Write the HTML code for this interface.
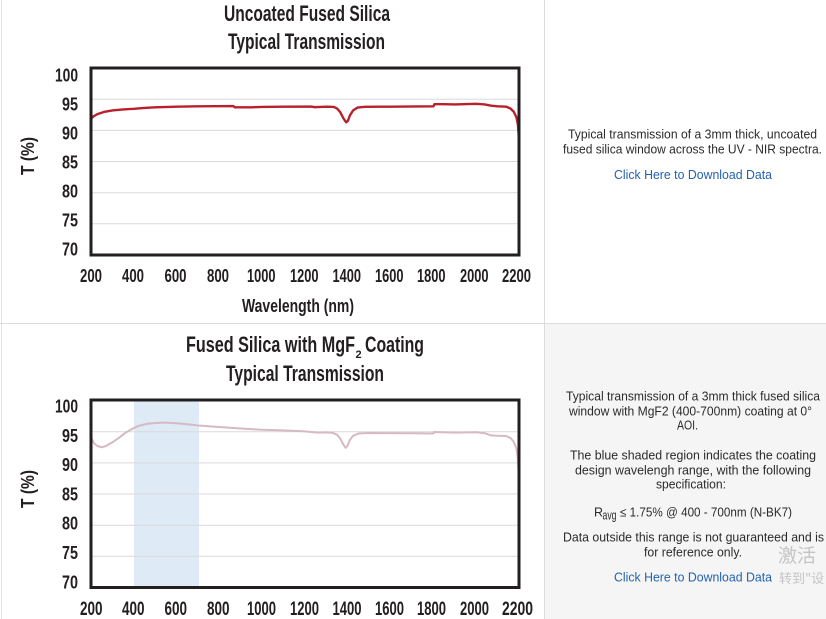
<!DOCTYPE html>
<html><head><meta charset="utf-8"><style>
html,body{margin:0;padding:0;background:#fff;}
svg{display:block;}
.t{font-family:"Liberation Sans",sans-serif;font-weight:bold;fill:#231f20;}
.r{font-family:"Liberation Sans","Noto Sans CJK SC",sans-serif;font-size:12.5px;fill:#2b2b2b;}
.lk{fill:#2462b0;}
</style></head><body>
<svg width="826" height="619" viewBox="0 0 826 619" xmlns="http://www.w3.org/2000/svg">
<rect x="0" y="0" width="826" height="619" fill="#fff"/>
<rect x="545" y="324" width="281" height="295" fill="#f5f5f5"/>
<line x1="1.5" y1="0" x2="1.5" y2="619" stroke="#e2e2e2" stroke-width="1"/>
<line x1="544.5" y1="0" x2="544.5" y2="619" stroke="#dcdcdc" stroke-width="1"/>
<line x1="0" y1="323.5" x2="826" y2="323.5" stroke="#dcdcdc" stroke-width="1"/>

<!-- TOP CHART -->
<text class="t" x="224" y="21" font-size="22" textLength="166" lengthAdjust="spacingAndGlyphs">Uncoated Fused Silica</text>
<text class="t" x="228" y="49" font-size="22" textLength="157" lengthAdjust="spacingAndGlyphs">Typical Transmission</text>
<g stroke="#dadada" stroke-width="1">
<line x1="91" y1="99.2" x2="519" y2="99.2"/>
<line x1="91" y1="130.4" x2="519" y2="130.4"/>
<line x1="91" y1="161.5" x2="519" y2="161.5"/>
<line x1="91" y1="192.7" x2="519" y2="192.7"/>
<line x1="91" y1="223.8" x2="519" y2="223.8"/>
</g>
<polyline fill="none" stroke="#b8202d" stroke-width="2.4" stroke-linejoin="round" vector-effect="non-scaling-stroke"
transform="matrix(0.214,0,0,-6.233,48.2,691.31)"
points="200,91.8 210,92.2 230,92.6 260,92.95 300,93.2 350,93.35 400,93.45 450,93.6 500,93.7 600,93.8 700,93.85 865,93.9 872,93.7 950,93.7 1000,93.75 1100,93.8 1230,93.82 1245,93.72 1300,93.8 1335,93.75 1350,93.5 1365,92.9 1380,91.9 1392,91.3 1400,91.5 1410,92.4 1425,93.2 1445,93.65 1480,93.78 1600,93.8 1800,93.85 1805,94.2 1850,94.2 1900,94.15 2000,94.25 2040,94.15 2070,93.95 2100,93.85 2140,93.8 2160,93.5 2175,93.0 2188,92.1 2195,90.9 2198,89.5 2200,88"/>
<rect x="91" y="68" width="428" height="187" fill="none" stroke="#231f20" stroke-width="3"/>
<g class="t" font-size="18" text-anchor="end">
<text x="78" y="81.5" textLength="23" lengthAdjust="spacingAndGlyphs">100</text>
<text x="78" y="110.5" textLength="16" lengthAdjust="spacingAndGlyphs">95</text>
<text x="78" y="139.5" textLength="16" lengthAdjust="spacingAndGlyphs">90</text>
<text x="78" y="168.5" textLength="16" lengthAdjust="spacingAndGlyphs">85</text>
<text x="78" y="197.5" textLength="16" lengthAdjust="spacingAndGlyphs">80</text>
<text x="78" y="226.5" textLength="16" lengthAdjust="spacingAndGlyphs">75</text>
<text x="78" y="255.5" textLength="16" lengthAdjust="spacingAndGlyphs">70</text>
</g>
<g class="t" font-size="18">
<text x="80" y="282" textLength="22" lengthAdjust="spacingAndGlyphs">200</text>
<text x="122" y="282" textLength="22" lengthAdjust="spacingAndGlyphs">400</text>
<text x="164.5" y="282" textLength="22" lengthAdjust="spacingAndGlyphs">600</text>
<text x="207" y="282" textLength="22" lengthAdjust="spacingAndGlyphs">800</text>
<text x="247" y="282" textLength="28.5" lengthAdjust="spacingAndGlyphs">1000</text>
<text x="290" y="282" textLength="28.5" lengthAdjust="spacingAndGlyphs">1200</text>
<text x="332.5" y="282" textLength="28.5" lengthAdjust="spacingAndGlyphs">1400</text>
<text x="375" y="282" textLength="28.5" lengthAdjust="spacingAndGlyphs">1600</text>
<text x="417" y="282" textLength="28.5" lengthAdjust="spacingAndGlyphs">1800</text>
<text x="460" y="282" textLength="28.5" lengthAdjust="spacingAndGlyphs">2000</text>
<text x="502" y="282" textLength="29" lengthAdjust="spacingAndGlyphs">2200</text>
</g>
<text class="t" x="242" y="312" font-size="18" textLength="112" lengthAdjust="spacingAndGlyphs">Wavelength (nm)</text>
<text class="t" x="0" y="0" font-size="18" transform="translate(34,175) rotate(-90)" textLength="38" lengthAdjust="spacingAndGlyphs">T (%)</text>

<!-- BOTTOM CHART -->
<text class="t" x="186" y="352" font-size="22" textLength="169" lengthAdjust="spacingAndGlyphs">Fused Silica with MgF</text>
<text class="t" x="355.5" y="358" font-size="11">2</text>
<text class="t" x="365" y="352" font-size="22" textLength="59" lengthAdjust="spacingAndGlyphs">Coating</text>
<text class="t" x="226" y="381" font-size="22" textLength="158" lengthAdjust="spacingAndGlyphs">Typical Transmission</text>
<rect x="134" y="400" width="65" height="187" fill="#deeaf5"/>
<g stroke="#dadada" stroke-width="1">
<line x1="91" y1="431.7" x2="519" y2="431.7"/>
<line x1="91" y1="462.9" x2="519" y2="462.9"/>
<line x1="91" y1="494" x2="519" y2="494"/>
<line x1="91" y1="525.2" x2="519" y2="525.2"/>
<line x1="91" y1="556.3" x2="519" y2="556.3"/>
</g>
<polyline fill="none" stroke="#d7b9c1" stroke-width="2" stroke-linejoin="round" vector-effect="non-scaling-stroke"
transform="matrix(0.214,0,0,-6.233,48.2,1023.81)"
points="200,94.4 205,93.8 215,93.1 230,92.7 250,92.5 270,92.7 300,93.3 330,94.0 360,94.8 390,95.4 420,95.9 460,96.25 500,96.4 550,96.45 600,96.35 650,96.2 700,96.0 800,95.75 900,95.5 1000,95.3 1100,95.2 1200,95.05 1260,94.85 1300,94.88 1330,94.8 1350,94.5 1365,93.9 1380,92.9 1390,92.4 1398,92.7 1410,93.7 1425,94.35 1450,94.7 1500,94.78 1700,94.75 1800,94.7 1803,94.95 1900,94.85 2000,94.9 2040,94.75 2070,94.4 2100,94.35 2140,94.3 2160,94.0 2175,93.4 2188,92.3 2194,90.8 2198,88.5 2200,86"/>
<rect x="91" y="400" width="428" height="187.5" fill="none" stroke="#231f20" stroke-width="3"/>
<g class="t" font-size="18" text-anchor="end">
<text x="78" y="412.5" textLength="23" lengthAdjust="spacingAndGlyphs">100</text>
<text x="78" y="441.8" textLength="16" lengthAdjust="spacingAndGlyphs">95</text>
<text x="78" y="471.1" textLength="16" lengthAdjust="spacingAndGlyphs">90</text>
<text x="78" y="500.4" textLength="16" lengthAdjust="spacingAndGlyphs">85</text>
<text x="78" y="529.7" textLength="16" lengthAdjust="spacingAndGlyphs">80</text>
<text x="78" y="559" textLength="16" lengthAdjust="spacingAndGlyphs">75</text>
<text x="78" y="588.3" textLength="16" lengthAdjust="spacingAndGlyphs">70</text>
</g>
<g class="t" font-size="19">
<text x="80" y="615" textLength="22.5" lengthAdjust="spacingAndGlyphs">200</text>
<text x="122" y="615" textLength="22.5" lengthAdjust="spacingAndGlyphs">400</text>
<text x="164.5" y="615" textLength="22.5" lengthAdjust="spacingAndGlyphs">600</text>
<text x="207" y="615" textLength="22.5" lengthAdjust="spacingAndGlyphs">800</text>
<text x="247" y="615" textLength="29" lengthAdjust="spacingAndGlyphs">1000</text>
<text x="290" y="615" textLength="29" lengthAdjust="spacingAndGlyphs">1200</text>
<text x="332.5" y="615" textLength="29" lengthAdjust="spacingAndGlyphs">1400</text>
<text x="375" y="615" textLength="29" lengthAdjust="spacingAndGlyphs">1600</text>
<text x="417" y="615" textLength="29" lengthAdjust="spacingAndGlyphs">1800</text>
<text x="460" y="615" textLength="29" lengthAdjust="spacingAndGlyphs">2000</text>
<text x="502" y="615" textLength="31" lengthAdjust="spacingAndGlyphs">2200</text>
</g>
<text class="t" x="0" y="0" font-size="18" transform="translate(34,508) rotate(-90)" textLength="38" lengthAdjust="spacingAndGlyphs">T (%)</text>

<!-- RIGHT TEXT TOP -->
<text class="r" x="568" y="138.5" textLength="249" lengthAdjust="spacingAndGlyphs">Typical transmission of a 3mm thick, uncoated</text>
<text class="r" x="563" y="153.5" textLength="259" lengthAdjust="spacingAndGlyphs">fused silica window across the UV - NIR spectra.</text>
<text class="r lk" x="614" y="179" textLength="158" lengthAdjust="spacingAndGlyphs">Click Here to Download Data</text>

<!-- RIGHT TEXT BOTTOM -->
<text class="r" x="566" y="400.5" textLength="254" lengthAdjust="spacingAndGlyphs">Typical transmission of a 3mm thick fused silica</text>
<text class="r" x="569" y="415.5" textLength="243" lengthAdjust="spacingAndGlyphs">window with MgF2 (400-700nm) coating at 0°</text>
<text class="r" x="677" y="429.5" textLength="21" lengthAdjust="spacingAndGlyphs">AOI.</text>
<text class="r" x="570" y="459.5" textLength="246" lengthAdjust="spacingAndGlyphs">The blue shaded region indicates the coating</text>
<text class="r" x="575" y="474.5" textLength="236" lengthAdjust="spacingAndGlyphs">design wavelengh range, with the following</text>
<text class="r" x="656" y="488.5" textLength="70" lengthAdjust="spacingAndGlyphs">specification:</text>
<text class="r" x="594" y="516.5">R</text>
<text class="r" x="602.5" y="519.5" font-size="9" textLength="14" lengthAdjust="spacingAndGlyphs">avg</text>
<text class="r" x="620" y="516.5" textLength="172" lengthAdjust="spacingAndGlyphs">≤ 1.75% @ 400 - 700nm (N-BK7)</text>
<text class="r" x="563" y="541.5" textLength="261" lengthAdjust="spacingAndGlyphs">Data outside this range is not guaranteed and is</text>
<text class="r" x="644" y="556.5" textLength="98" lengthAdjust="spacingAndGlyphs">for reference only.</text>
<text class="r lk" x="614" y="581.5" textLength="158" lengthAdjust="spacingAndGlyphs">Click Here to Download Data</text>

<!-- watermark -->
<text x="778" y="562" font-family="'Noto Sans CJK SC',sans-serif" font-size="19" fill="#c4c4c4">激活</text>
<text x="779" y="583" font-family="'Noto Sans CJK SC',sans-serif" font-size="13" fill="#c4c4c4">转到"设</text>
</svg>
</body></html>
